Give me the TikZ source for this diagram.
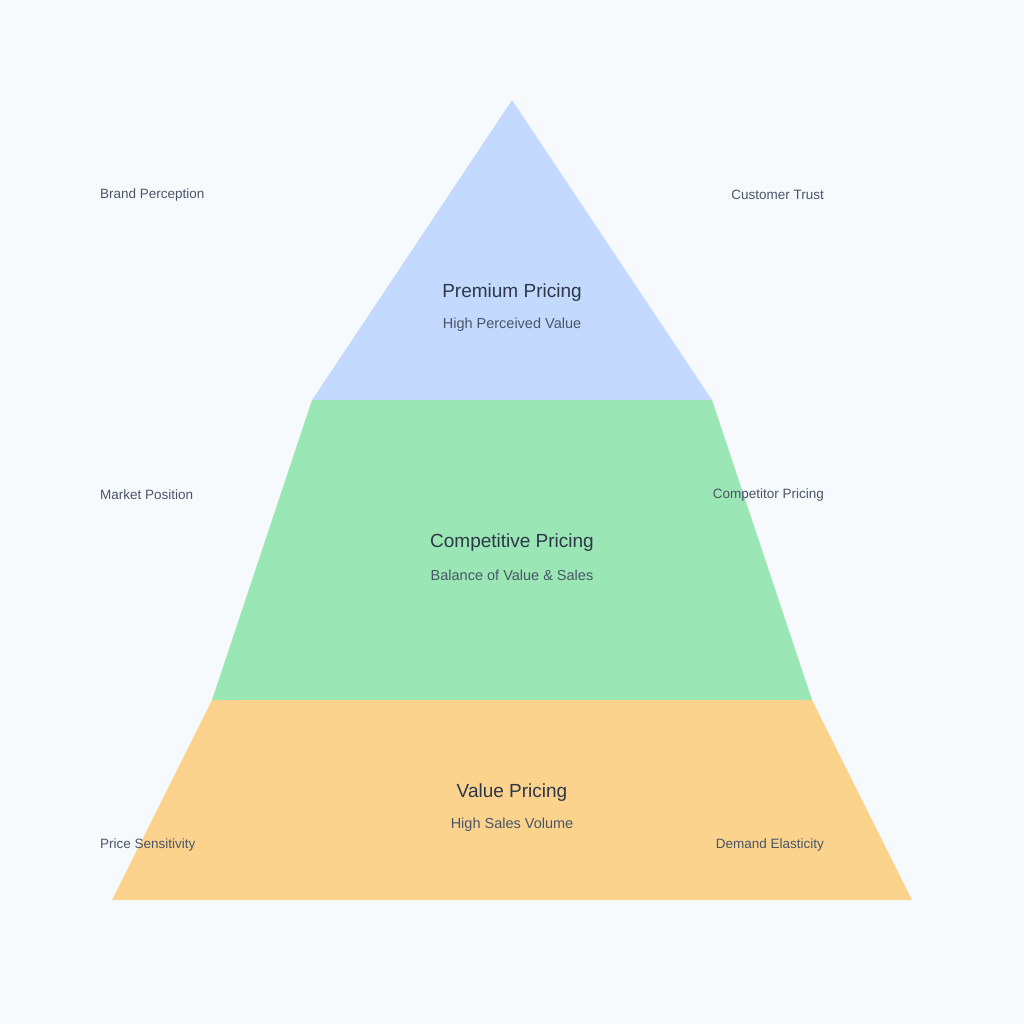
\documentclass[tikz,border=0pt]{standalone}
\usepackage{fontspec}
\setmainfont{Liberation Sans}
\usetikzlibrary{positioning}
\definecolor{bgcol}{HTML}{F7FAFC}
\definecolor{topcol}{HTML}{C3D9FD}
\definecolor{midcol}{HTML}{9AE6B4}
\definecolor{lowcol}{HTML}{FBD38D}
\definecolor{titlecol}{HTML}{2D3748}
\definecolor{subcol}{HTML}{4A5568}
\tikzset{
    tiertitle/.style={font=\fontsize{19}{22}\selectfont, text=titlecol, inner sep=0pt},
    tiersub/.style={font=\fontsize{14.5}{17}\selectfont, text=subcol, inner sep=0pt},
    sidelabel/.style={font=\fontsize{13.5}{16}\selectfont, text=subcol, inner sep=0pt}
}
\begin{document}
\begin{tikzpicture}[x=1pt, y=-1pt]
    % background
    \fill[bgcol] (0,0) rectangle (1024,1024);
    \useasboundingbox (0,0) rectangle (1024,1024);

    % tiers
    \fill[topcol] (512,100) -- (712,400) -- (312,400) -- cycle;
    \fill[midcol] (312,400) -- (712,400) -- (812,700) -- (212,700) -- cycle;
    \fill[lowcol] (212,700) -- (812,700) -- (912,900) -- (112,900) -- cycle;

    % tier texts
    \node[tiertitle] (premium) at (512,293) {Premium Pricing};
    \node[tiersub] (premiumSub) at (512,325) {High Perceived Value};
    \node[tiertitle] (competitive) at (512,543) {Competitive Pricing};
    \node[tiersub] (competitiveSub) at (512,575) {Balance of Value \& Sales};
    \node[tiertitle] (value) at (512,793) {Value Pricing};
    \node[tiersub] (valueSub) at (512,825) {High Sales Volume};

    % side labels
    \node[sidelabel, anchor=west] (brand) at (100,195) {Brand Perception};
    \node[sidelabel, anchor=east] (trust) at (824,195) {Customer Trust};
    \node[sidelabel, anchor=west] (market) at (100,495) {Market Position};
    \node[sidelabel, anchor=east] (competitor) at (824,495) {Competitor Pricing};
    \node[sidelabel, anchor=west] (sensitivity) at (100,845) {Price Sensitivity};
    \node[sidelabel, anchor=east] (elasticity) at (824,845) {Demand Elasticity};
\end{tikzpicture}
\end{document}
